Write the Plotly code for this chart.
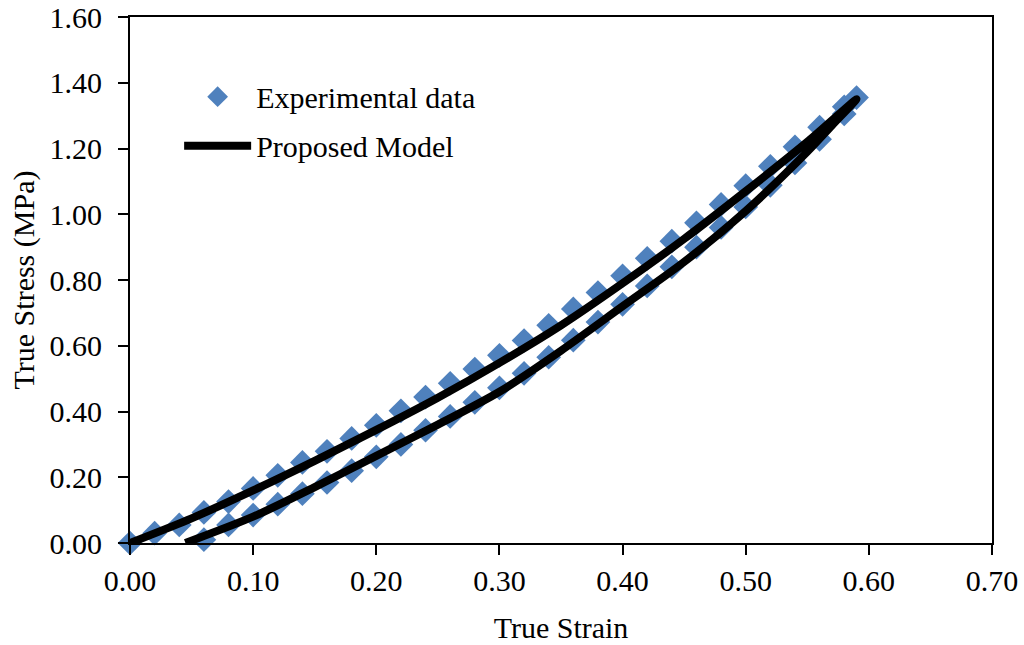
import plotly.graph_objects as go

# Experimental data - loading branch (true strain, true stress MPa)
exp_load_strain = [0.00, 0.02, 0.04, 0.06, 0.08, 0.10, 0.12, 0.14, 0.16, 0.18,
                   0.20, 0.22, 0.24, 0.26, 0.28, 0.30, 0.32, 0.34, 0.36, 0.38,
                   0.40, 0.42, 0.44, 0.46, 0.48, 0.50, 0.52, 0.54, 0.56, 0.58, 0.59]
exp_load_stress = [0.000, 0.030, 0.055, 0.093, 0.126, 0.166, 0.206, 0.245, 0.279, 0.318,
                   0.358, 0.402, 0.444, 0.486, 0.529, 0.571, 0.616, 0.662, 0.712, 0.762,
                   0.813, 0.866, 0.918, 0.974, 1.030, 1.087, 1.146, 1.205, 1.265, 1.327, 1.355]

# Experimental data - unloading branch
exp_unload_strain = [0.06, 0.08, 0.10, 0.12, 0.14, 0.16, 0.18, 0.20, 0.22, 0.24,
                     0.26, 0.28, 0.30, 0.32, 0.34, 0.36, 0.38, 0.40, 0.42, 0.44,
                     0.46, 0.48, 0.50, 0.52, 0.54, 0.56, 0.58]
exp_unload_stress = [0.010, 0.055, 0.085, 0.118, 0.150, 0.184, 0.220, 0.262, 0.300, 0.343,
                     0.385, 0.428, 0.472, 0.516, 0.565, 0.617, 0.672, 0.726, 0.782, 0.840,
                     0.900, 0.960, 1.022, 1.088, 1.156, 1.228, 1.305]

# Proposed model - loading then unloading
model_strain = [0.00, 0.05, 0.10, 0.15, 0.20, 0.25, 0.30, 0.35, 0.40, 0.45,
                0.50, 0.55, 0.59,
                0.57, 0.55, 0.50, 0.45, 0.40, 0.35, 0.30, 0.25, 0.20, 0.15,
                0.10, 0.045]
model_stress = [0.000, 0.075, 0.160, 0.250, 0.344, 0.442, 0.548, 0.662, 0.790, 0.925,
                1.070, 1.220, 1.350,
                1.270, 1.190, 1.010, 0.855, 0.720, 0.585, 0.460, 0.360, 0.265, 0.170,
                0.080, 0.000]

fig = go.Figure()
fig.add_trace(go.Scatter(
    x=exp_load_strain + exp_unload_strain,
    y=exp_load_stress + exp_unload_stress,
    mode="markers",
    name="Experimental data",
    legendgroup="exp",
    marker=dict(symbol="diamond", size=19, color="#4F81BD"),
    cliponaxis=False,
))
fig.add_trace(go.Scatter(
    x=model_strain,
    y=model_stress,
    mode="lines",
    name="Proposed Model",
    legendgroup="model",
    line=dict(color="black", width=8, shape="spline", smoothing=0.8),
    cliponaxis=False,
))

font = dict(family="Liberation Serif, Times New Roman, serif", size=30, color="black")
axis = dict(
    showline=True, linecolor="black", linewidth=2, mirror=True,
    ticks="outside", ticklen=10, tickwidth=2, tickcolor="black",
    showgrid=False, zeroline=False, tickformat=".2f",
    tickfont=font, title_font=font, ticklabeloverflow="allow",
)
fig.update_layout(
    width=1024, height=645,
    margin=dict(l=130, r=32, t=17, b=102, autoexpand=False),
    paper_bgcolor="white", plot_bgcolor="white",
    font=font,
    showlegend=True,
    legend=dict(x=0.057, y=0.898, xanchor="left", yanchor="top",
                bgcolor="rgba(0,0,0,0)", itemwidth=67, font=font,
                tracegroupgap=7),
    xaxis=dict(axis, range=[0, 0.70], dtick=0.10,
               title=dict(text="True Strain", standoff=21)),
    yaxis=dict(axis, range=[0, 1.60], dtick=0.20, ticklabelstandoff=10,
               title=dict(text="True Stress (MPa)", standoff=6)),
)
# drop the default body margin so the figure sits at the top-left of the page
fig.write_html("out.html", config={"displayModeBar": False},
               post_script="document.body.style.margin='0';")
